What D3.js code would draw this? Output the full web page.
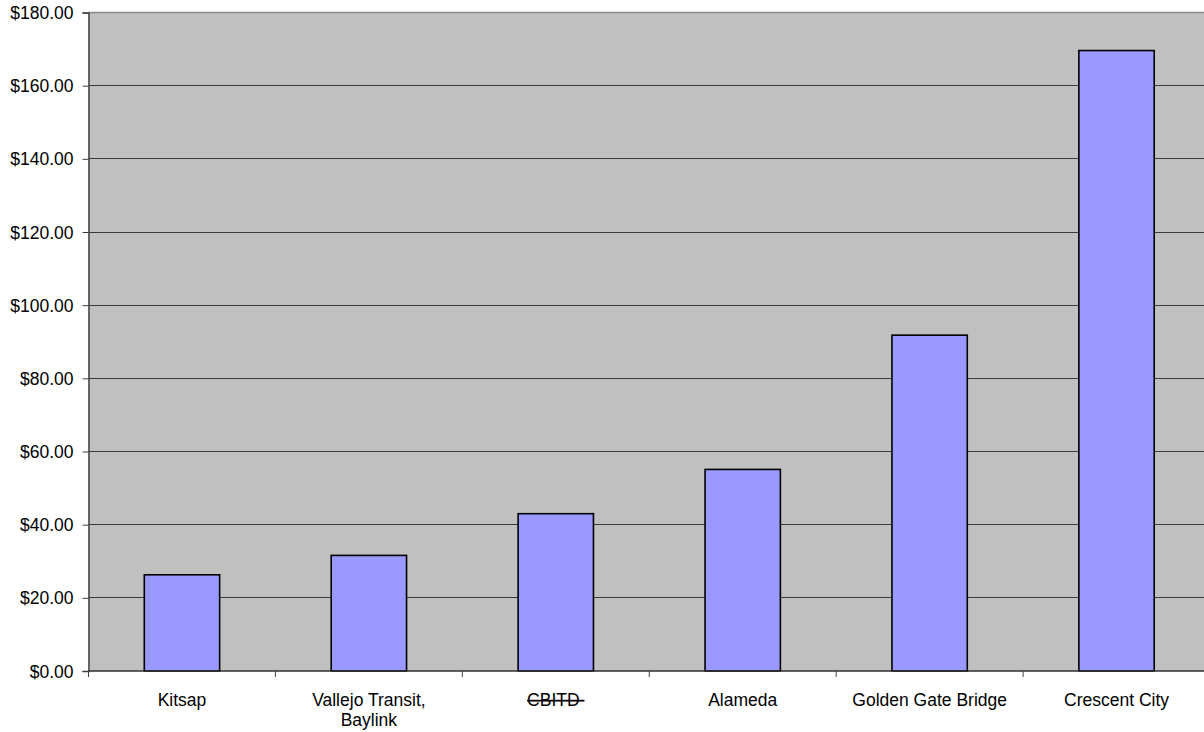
<!DOCTYPE html>
<html>
<head>
<meta charset="utf-8">
<script src="https://cdn.jsdelivr.net/npm/d3@7"></script>
<style>
  body { margin: 0; background: #fff; }
  svg text { font-family: "Liberation Sans", Arial, sans-serif; fill: #000; }
</style>
</head>
<body>
<div id="chart"></div>
<script>
// chart data
var categories = ["Kitsap", "Vallejo Transit,|Baylink", "CBITD ", "Alameda", "Golden Gate Bridge", "Crescent City"];
var costs = [26.3, 31.6, 43.0, 55.1, 91.8, 169.6];
var yTicks = [0, 20, 40, 60, 80, 100, 120, 140, 160, 180];
var struck = ["CBITD "];

var svgWidth = 1204;
var svgHeight = 732;

// plot area runs past the right edge of the picture
var margin = { top: 12.5, left: 88.5 };
var plotWidth = 1121.5;
var plotHeight = 658.5;

var svg = d3.select("#chart")
  .append("svg")
  .attr("width", svgWidth)
  .attr("height", svgHeight);

var chartGroup = svg.append("g")
  .attr("transform", `translate(${margin.left}, ${margin.top})`);

var xScale = d3.scaleBand()
  .domain(categories)
  .range([0, plotWidth]);

var yScale = d3.scaleLinear()
  .domain([0, 180])
  .range([plotHeight, 0]);

// grey plot background
chartGroup.append("rect")
  .attr("x", 0)
  .attr("y", 0)
  .attr("width", plotWidth)
  .attr("height", plotHeight)
  .attr("fill", "#c0c0c0");

// gridlines
chartGroup.selectAll(".grid")
  .data(yTicks.slice(1))
  .enter()
  .append("line")
  .attr("x1", 0)
  .attr("x2", plotWidth)
  .attr("y1", d => Math.round(yScale(d)) + 0.5 - 0.5)
  .attr("y2", d => Math.round(yScale(d)) + 0.5 - 0.5)
  .attr("stroke", d => d === 180 ? "#8a8a8a" : "#3a3a3a")
  .attr("stroke-width", d => d === 180 ? 1.5 : 1);

// bars
var barWidth = xScale.bandwidth() * 0.403;
chartGroup.selectAll(".bar")
  .data(costs)
  .enter()
  .append("rect")
  .attr("x", (d, i) => xScale(categories[i]) + (xScale.bandwidth() - barWidth) / 2)
  .attr("y", d => yScale(d))
  .attr("width", barWidth)
  .attr("height", d => plotHeight - yScale(d))
  .attr("fill", "#9999ff")
  .attr("stroke", "#000")
  .attr("stroke-width", 1.6);

// y axis
var leftAxis = d3.axisLeft(yScale)
  .tickValues(yTicks)
  .tickSize(6)
  .tickPadding(9)
  .tickFormat(d => "$" + d3.format(".2f")(d));

var yAxis = chartGroup.append("g").call(leftAxis);
yAxis.select(".domain").attr("stroke", "#404040").attr("stroke-width", 1.5);
yAxis.selectAll(".tick line").attr("stroke", "#404040");
yAxis.selectAll("text")
  .style("font-size", "17.5px")
  .attr("dy", "0.35em");

// x axis
var tickPositions = categories.map(c => xScale(c));
var xAxis = chartGroup.append("g")
  .attr("transform", `translate(0, ${plotHeight})`);

xAxis.append("line")
  .attr("x1", 0)
  .attr("x2", plotWidth)
  .attr("stroke", "#303030")
  .attr("stroke-width", 1.5);

xAxis.selectAll(".xtick")
  .data(tickPositions)
  .enter()
  .append("line")
  .attr("x1", d => d)
  .attr("x2", d => d)
  .attr("y1", 0)
  .attr("y2", 6)
  .attr("stroke", "#404040");

var labels = xAxis.selectAll(".xlabel")
  .data(categories)
  .enter()
  .append("text")
  .attr("text-anchor", "middle")
  .attr("xml:space", "preserve")
  .style("font-size", "17.5px")
  .style("text-decoration", d => struck.indexOf(d) >= 0 ? "line-through" : null);

labels.each(function (d) {
  var parts = d.split("|");
  var cx = xScale(d) + xScale.bandwidth() / 2;
  d3.select(this).selectAll("tspan")
    .data(parts)
    .enter()
    .append("tspan")
    .attr("x", cx)
    .attr("y", (p, i) => 35 + i * 20)
    .text(p => p);
});
</script>
</body>
</html>
